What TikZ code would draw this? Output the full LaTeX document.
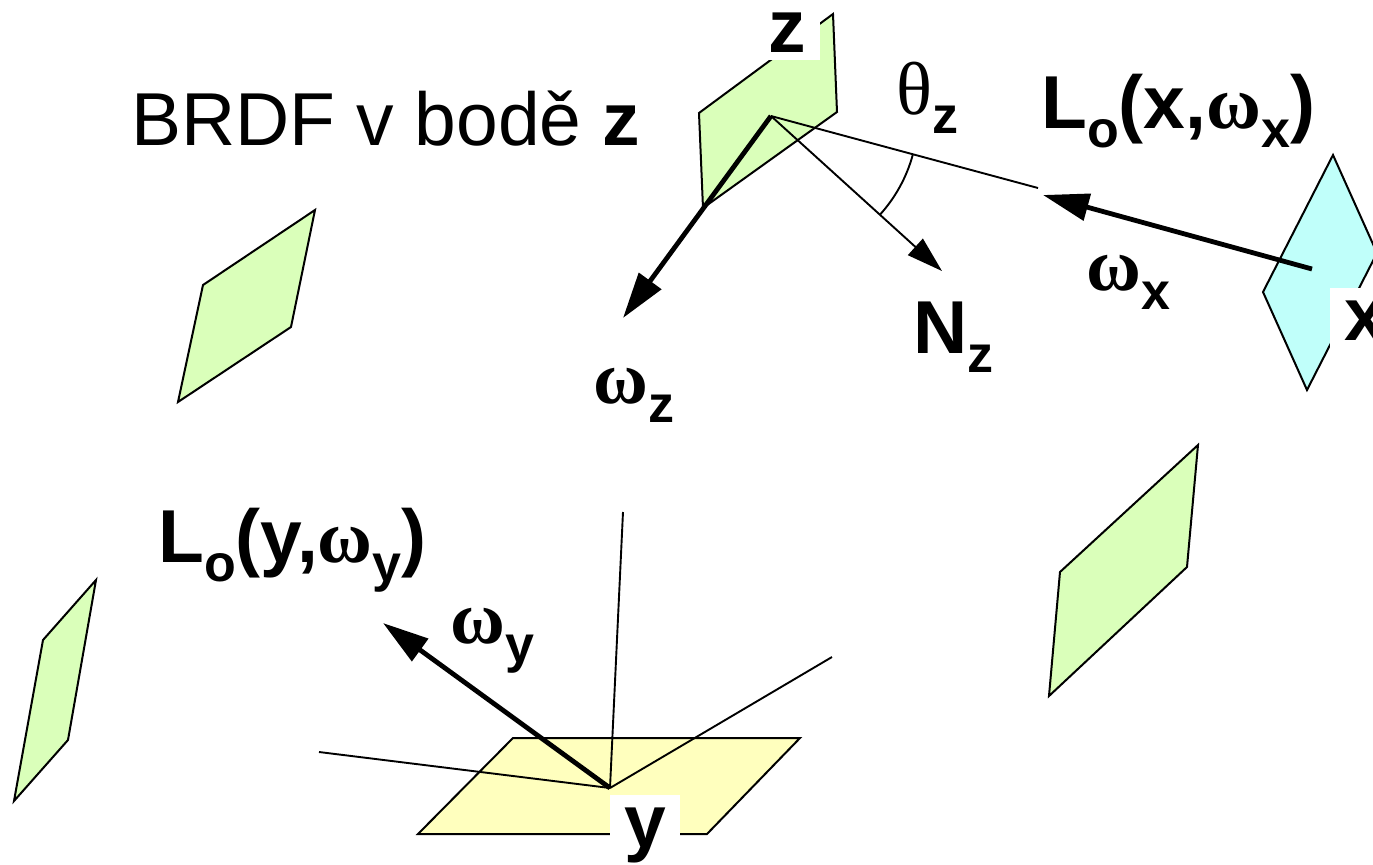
\documentclass[tikz,border=0pt]{standalone}
\usepackage{fontspec}
\setmainfont{Liberation Sans}
\newfontfamily\gr{Liberation Serif}
\usetikzlibrary{arrows.meta,angles}
\definecolor{leaf}{RGB}{218,255,186}
\definecolor{aqua}{RGB}{192,255,250}
\definecolor{cream}{RGB}{255,255,190}
\newcommand{\sbs}[1]{\raisebox{-9.5pt}{\fontsize{26pt}{26pt}\selectfont\bfseries #1}}
\newcommand{\om}{{\gr\bfseries ω}}
\begin{document}
\begin{tikzpicture}[x=0.5pt,y=-0.5pt,
  every node/.style={inner sep=0pt, font=\fontsize{37.5pt}{45pt}\selectfont},
  txt/.style={anchor=base west},
  lbl/.style={anchor=base west, fill=white, inner xsep=7pt, inner ysep=4pt, text height=22pt, text depth=0pt, font=\fontsize{37.5pt}{45pt}\selectfont\bfseries},
  plate/.style={draw=black, line width=1pt, line join=miter},
  leafplate/.style={plate, fill=leaf},
  thinline/.style={line width=0.95pt},
  thickline/.style={line width=2.4pt},
  bigtip/.style={-{Triangle[length=23pt,width=13.5pt]}},
  smalltip/.style={-{Triangle[length=18pt,width=11pt]}}
]
\useasboundingbox (0,0) rectangle (1373,864);

% plates
\draw[leafplate] (699,113) -- (833,14) -- (837,112) -- (703,208) -- cycle;
\draw[leafplate] (315,210) -- (291,327) -- (178,402) -- (203,285) -- cycle;
\draw[leafplate] (96,580) -- (68,740) -- (14,801) -- (43,640) -- cycle;
\draw[leafplate] (1198,445) -- (1187,567) -- (1049,696) -- (1060,572) -- cycle;
\draw[plate, fill=aqua] (1333,155) -- (1377,253) -- (1307,390) -- (1263,292) -- cycle;
\draw[plate, fill=cream] (513,738) -- (800,738) -- (707,834) -- (418,834) -- cycle;

% points
\coordinate (zp) at (771,116);
\coordinate (wz) at (623,318);
\coordinate (nz) at (942,271);
\coordinate (xe) at (1038,188);
\coordinate (xp) at (1312,269);
\coordinate (xt) at (1043,195);
\coordinate (yp) at (610,788);
\coordinate (yl) at (319,752);
\coordinate (yu) at (623,512);
\coordinate (yr) at (832,657);
\coordinate (wy) at (383,623);

% connectors at z
\draw[thinline] (zp) -- (xe);
\draw[thinline, smalltip] (zp) -- (nz);
\draw[thickline, bigtip] (zp) -- (wz);
\pic[draw, thinline, angle radius=73.5pt] {angle = nz--zp--xe};
\draw[thickline, bigtip] (xp) -- (xt);

% connectors at y
\draw[thinline] (yp) -- (yl);
\draw[thinline] (yp) -- (yu);
\draw[thinline] (yp) -- (yr);
\draw[thickline, bigtip] (yp) -- (wy);

% labels with white boxes
\node[lbl] (zlab) at (754,52) {z};
\node[lbl] (xlab) at (1330,340) {x};
\node[lbl, text depth=14pt] (ylab) at (610,847) {y};

% text
\node[txt] (title) at (131,145) {BRDF v bodě \textbf{z}};
\node[txt] (theta) at (896,114) {{\gr θ}\sbs{z}};
\node[txt] (lox) at (1041,128) {\textbf{L\sbs{o}(x,\om\sbs{x})}};
\node[txt] (omx) at (1086,290) {\om\sbs{x}};
\node[txt] (nzl) at (913,353) {\textbf{N}\sbs{z}};
\node[txt] (omz) at (593,403) {\om\sbs{z}};
\node[txt] (loy) at (158,562) {\textbf{L\sbs{o}(y,\om\sbs{y})}};
\node[txt] (omy) at (450,643) {\om\sbs{y}};
\end{tikzpicture}
\end{document}
